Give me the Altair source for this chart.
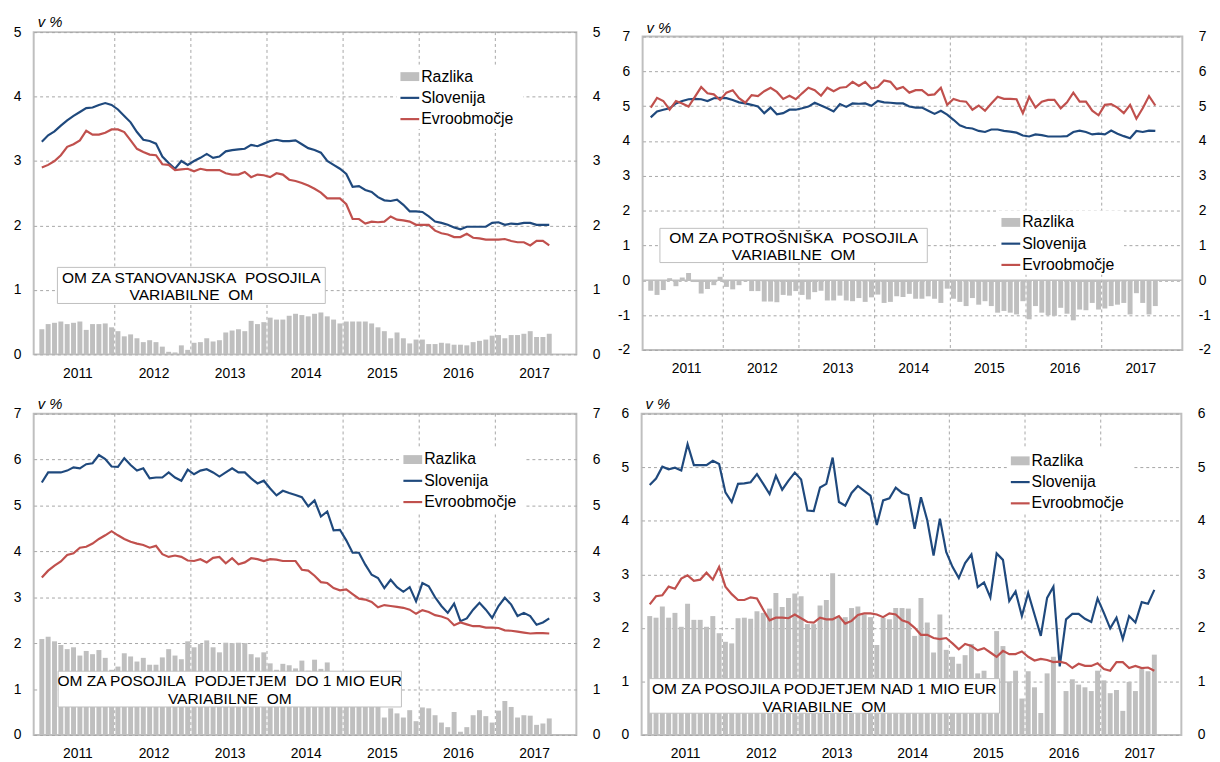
import altair as alt
import pandas as pd

FONT = "Liberation Sans"
BLUE = "#1F497D"
RED = "#C0504D"
GRAY = "#BFBFBF"
GRID = "#A6A6A6"
BORDER = "#BFBFBF"

months = [f"{y}-{m:02d}" for y in range(2011, 2018) for m in range(1, 13)][:81]
year_labels = ["2011", "2012", "2013", "2014", "2015", "2016", "2017"]
legend_labels = ["Razlika", "Slovenija", "Evroobmočje"]

# Panel 1: OM za stanovanjska posojila
p1_slovenija = [3.30, 3.40, 3.46, 3.55, 3.63, 3.70, 3.76, 3.82, 3.83, 3.87,
                3.90, 3.87, 3.80, 3.70, 3.60, 3.45, 3.33, 3.31, 3.27, 3.07,
                2.97, 2.88, 3.00, 2.94, 3.00, 3.05, 3.11, 3.05, 3.07, 3.15,
                3.17, 3.18, 3.19, 3.25, 3.23, 3.27, 3.31, 3.33, 3.31, 3.31,
                3.32, 3.26, 3.20, 3.17, 3.13, 3.00, 2.94, 2.88, 2.80, 2.60,
                2.61, 2.55, 2.52, 2.44, 2.39, 2.38, 2.40, 2.32, 2.22, 2.22,
                2.21, 2.14, 2.06, 2.04, 2.01, 1.97, 1.94, 1.98, 1.98, 1.98,
                1.98, 2.04, 2.05, 2.01, 2.03, 2.02, 2.04, 2.04, 2.01, 2.01,
                2.01]
p1_evro = [2.90, 2.94, 3.00, 3.09, 3.22, 3.26, 3.32, 3.47, 3.41, 3.41,
           3.44, 3.49, 3.49, 3.45, 3.32, 3.19, 3.14, 3.10, 3.09, 2.95,
           2.94, 2.86, 2.87, 2.88, 2.84, 2.88, 2.86, 2.86, 2.86, 2.81,
           2.79, 2.79, 2.83, 2.75, 2.79, 2.78, 2.75, 2.81, 2.79, 2.71,
           2.69, 2.66, 2.62, 2.57, 2.51, 2.42, 2.42, 2.42, 2.33, 2.10,
           2.10, 2.03, 2.06, 2.05, 2.06, 2.14, 2.09, 2.08, 2.06, 2.01,
           2.01, 2.01, 1.92, 1.88, 1.86, 1.82, 1.82, 1.87, 1.81, 1.80,
           1.78, 1.78, 1.78, 1.79, 1.76, 1.74, 1.74, 1.69, 1.76, 1.76,
           1.69]
p1_razlika = [0.39, 0.47, 0.49, 0.51, 0.47, 0.49, 0.51, 0.38, 0.47, 0.47,
              0.48, 0.42, 0.36, 0.28, 0.31, 0.25, 0.19, 0.22, 0.19, 0.12,
              0.04, 0.03, 0.14, 0.07, 0.18, 0.19, 0.25, 0.20, 0.22, 0.34,
              0.37, 0.39, 0.36, 0.52, 0.47, 0.50, 0.57, 0.54, 0.54, 0.60,
              0.63, 0.61, 0.59, 0.63, 0.65, 0.59, 0.54, 0.48, 0.51, 0.51,
              0.51, 0.51, 0.48, 0.42, 0.36, 0.25, 0.34, 0.25, 0.17, 0.23,
              0.23, 0.16, 0.16, 0.18, 0.17, 0.15, 0.15, 0.14, 0.19, 0.21,
              0.23, 0.29, 0.30, 0.25, 0.30, 0.30, 0.32, 0.36, 0.27, 0.27,
              0.32]

# Panel 2: OM za potrošniška posojila
p2_slovenija = [4.68, 4.85, 4.90, 4.94, 5.08, 5.15, 5.20, 5.21, 5.20, 5.15,
                5.23, 5.24, 5.23, 5.18, 5.11, 5.08, 5.04, 4.99, 4.80, 4.96,
                4.77, 4.80, 4.90, 4.90, 4.94, 4.99, 5.10, 5.02, 4.94, 4.85,
                5.06, 4.98, 5.08, 5.07, 5.08, 5.01, 5.15, 5.11, 5.10, 5.08,
                5.08, 4.99, 4.96, 4.96, 4.87, 4.78, 4.87, 4.76, 4.61, 4.45,
                4.38, 4.36, 4.29, 4.26, 4.33, 4.33, 4.29, 4.27, 4.24, 4.16,
                4.13, 4.19, 4.17, 4.13, 4.13, 4.13, 4.14, 4.26, 4.30, 4.26,
                4.19, 4.21, 4.19, 4.30, 4.21, 4.14, 4.08, 4.29, 4.26, 4.30,
                4.29]
p2_evro = [4.96, 5.24, 5.15, 4.90, 5.15, 5.08, 4.99, 5.27, 5.55, 5.37,
           5.34, 5.18, 5.39, 5.46, 5.23, 5.10, 5.32, 5.29, 5.43, 5.53,
           5.41, 5.21, 5.30, 5.20, 5.37, 5.53, 5.46, 5.30, 5.53, 5.43,
           5.53, 5.55, 5.70, 5.58, 5.70, 5.51, 5.55, 5.74, 5.70, 5.49,
           5.55, 5.39, 5.46, 5.46, 5.32, 5.34, 5.53, 5.04, 5.21, 5.15,
           5.13, 4.90, 5.02, 4.87, 5.08, 5.27, 5.21, 5.21, 5.20, 4.80,
           5.27, 4.96, 5.13, 5.18, 5.18, 4.94, 5.11, 5.39, 5.13, 5.13,
           4.87, 4.74, 5.04, 5.06, 4.96, 4.80, 5.04, 4.64, 4.94, 5.29,
           5.02]
p2_razlika = [-0.30, -0.42, -0.28, 0.06, -0.17, 0.08, 0.21, -0.05, -0.38, -0.25,
              -0.14, 0.10, -0.19, -0.26, -0.14, -0.03, -0.31, -0.31, -0.61, -0.61,
              -0.63, -0.42, -0.44, -0.31, -0.42, -0.55, -0.34, -0.30, -0.58, -0.58,
              -0.44, -0.58, -0.60, -0.51, -0.62, -0.49, -0.41, -0.65, -0.62, -0.46,
              -0.48, -0.39, -0.53, -0.53, -0.46, -0.53, -0.65, -0.24, -0.53, -0.62,
              -0.74, -0.51, -0.70, -0.60, -0.74, -0.93, -0.88, -0.93, -0.98, -0.60,
              -1.12, -0.74, -0.93, -1.00, -1.02, -0.79, -0.96, -1.15, -0.84, -0.86,
              -0.65, -0.84, -0.81, -0.74, -0.70, -0.65, -0.98, -0.37, -0.65, -0.98,
              -0.74]

# Panel 3: OM za posojila podjetjem do 1 mio EUR
p3_slovenija = [5.50, 5.72, 5.72, 5.72, 5.76, 5.83, 5.81, 5.90, 5.92, 6.10,
                6.01, 5.85, 5.84, 6.03, 5.88, 5.76, 5.81, 5.59, 5.61, 5.61,
                5.72, 5.61, 5.54, 5.78, 5.68, 5.76, 5.79, 5.72, 5.63, 5.72,
                5.81, 5.72, 5.72, 5.59, 5.48, 5.54, 5.37, 5.22, 5.32, 5.27,
                5.23, 5.18, 4.98, 5.11, 4.76, 4.87, 4.46, 4.47, 4.24, 3.97,
                3.97, 3.71, 3.49, 3.42, 3.20, 3.38, 3.22, 3.12, 3.22, 2.91,
                3.31, 3.24, 3.00, 2.81, 2.66, 2.86, 2.48, 2.54, 2.73, 2.88,
                2.73, 2.55, 2.81, 2.99, 2.84, 2.59, 2.66, 2.59, 2.40, 2.45,
                2.54]
p3_evro = [3.43, 3.58, 3.69, 3.78, 3.92, 3.96, 4.08, 4.10, 4.17, 4.27,
           4.35, 4.44, 4.35, 4.27, 4.21, 4.17, 4.14, 4.08, 4.12, 3.94,
           3.88, 3.91, 3.88, 3.80, 3.79, 3.83, 3.76, 3.86, 3.88, 3.74,
           3.85, 3.72, 3.76, 3.85, 3.83, 3.79, 3.83, 3.82, 3.79, 3.79,
           3.79, 3.60, 3.58, 3.47, 3.33, 3.31, 3.20, 3.15, 3.17, 3.07,
           2.97, 2.95, 2.90, 2.78, 2.83, 2.81, 2.79, 2.77, 2.73, 2.64,
           2.72, 2.68, 2.61, 2.58, 2.53, 2.39, 2.45, 2.41, 2.37, 2.37,
           2.34, 2.34, 2.33, 2.28, 2.27, 2.25, 2.23, 2.21, 2.22, 2.22,
           2.21]
p3_razlika = [2.09, 2.14, 2.04, 1.96, 1.87, 1.91, 1.73, 1.83, 1.76, 1.85,
              1.68, 1.42, 1.49, 1.78, 1.71, 1.60, 1.68, 1.53, 1.53, 1.69,
              1.87, 1.73, 1.65, 2.04, 1.91, 1.98, 2.06, 1.91, 1.80, 2.01,
              2.00, 2.01, 2.00, 1.76, 1.69, 1.80, 1.56, 1.42, 1.55, 1.52,
              1.45, 1.62, 1.40, 1.64, 1.44, 1.58, 1.26, 1.32, 1.07, 0.90,
              1.00, 0.76, 0.62, 0.64, 0.38, 0.58, 0.47, 0.38, 0.54, 0.30,
              0.60, 0.58, 0.43, 0.27, 0.17, 0.50, 0.07, 0.17, 0.43, 0.54,
              0.41, 0.27, 0.53, 0.74, 0.61, 0.38, 0.43, 0.42, 0.22, 0.25,
              0.36]

# Panel 4: OM za posojila podjetjem nad 1 mio EUR
p4_slovenija = [4.67, 4.79, 5.01, 4.96, 4.99, 4.94, 5.43, 5.04, 5.04, 5.04,
                5.12, 5.06, 4.53, 4.35, 4.69, 4.70, 4.72, 4.87, 4.69, 4.50,
                4.84, 4.58, 4.75, 4.90, 4.77, 4.19, 4.18, 4.62, 4.69, 5.18,
                4.35, 4.28, 4.52, 4.65, 4.56, 4.47, 3.92, 4.38, 4.42, 4.62,
                4.52, 4.48, 3.85, 4.44, 4.01, 3.35, 4.04, 3.42, 3.14, 2.93,
                3.21, 3.37, 2.76, 2.85, 2.57, 3.39, 3.27, 2.50, 2.68, 2.22,
                2.65, 2.25, 1.85, 2.56, 2.77, 1.28, 2.16, 2.26, 2.26, 2.17,
                2.11, 2.55, 2.28, 1.99, 2.19, 1.79, 2.22, 2.10, 2.48, 2.45,
                2.71]
p4_evro = [2.44, 2.59, 2.61, 2.77, 2.73, 2.92, 2.98, 2.88, 2.90, 3.03,
           2.90, 3.14, 2.77, 2.63, 2.52, 2.52, 2.57, 2.55, 2.34, 2.14,
           2.19, 2.19, 2.18, 2.25, 2.18, 2.11, 2.10, 2.19, 2.16, 2.16,
           2.22, 2.08, 2.13, 2.24, 2.27, 2.27, 2.25, 2.20, 2.27, 2.25,
           2.14, 2.10, 2.00, 1.87, 1.87, 1.81, 1.79, 1.81, 1.71, 1.60,
           1.70, 1.66, 1.58, 1.62, 1.54, 1.46, 1.57, 1.51, 1.51, 1.56,
           1.46, 1.39, 1.42, 1.40, 1.36, 1.37, 1.34, 1.25, 1.33, 1.29,
           1.29, 1.34, 1.23, 1.20, 1.36, 1.36, 1.25, 1.29, 1.25, 1.26,
           1.20]
p4_razlika = [2.22, 2.19, 2.40, 2.19, 2.28, 2.02, 2.45, 2.15, 2.15, 2.02,
              2.22, 1.90, 1.74, 1.71, 2.18, 2.19, 2.17, 2.31, 2.28, 2.36,
              2.65, 2.39, 2.56, 2.64, 2.59, 2.07, 2.07, 2.42, 2.52, 3.02,
              2.19, 2.20, 2.37, 2.40, 2.25, 2.20, 1.68, 2.19, 2.16, 2.37,
              2.37, 2.36, 1.85, 2.56, 2.10, 1.54, 2.25, 1.59, 1.46, 1.33,
              1.49, 1.70, 1.15, 1.20, 1.03, 1.94, 1.66, 1.00, 1.20, 0.68,
              1.19, 0.89, 0.41, 1.15, 1.46, -0.02, 0.82, 1.04, 0.94, 0.89,
              0.82, 1.20, 1.02, 0.78, 0.84, 0.45, 0.99, 0.82, 1.23, 1.19,
              1.50]

one = pd.DataFrame({"k": [0]})
year_starts = pd.DataFrame({"start": [12 * k for k in range(1, len(year_labels))]})


def vrect(x0, x1, y0, y1, **kw):
    return alt.Chart(one).mark_rect(**kw).encode(
        x=alt.value(x0), x2=alt.value(x1), y=alt.value(y0), y2=alt.value(y1))


def vtext(x, y, txt, **kw):
    base = dict(font=FONT, color="black", baseline="middle")
    base.update(kw)
    return alt.Chart(one).mark_text(**base).encode(
        x=alt.value(x), y=alt.value(y), text=alt.value(txt))


def vrule(x0, x1, y, **kw):
    return alt.Chart(one).mark_rule(**kw).encode(
        x=alt.value(x0), x2=alt.value(x1), y=alt.value(y))


def panel(slo, evro, raz, ymin, ymax, W, H, box, box_lines, box_text_y, leg,
          vpct_y, zero_line=False):
    df = pd.DataFrame({"mesec": months, "Slovenija": slo,
                       "Evroobmočje": evro, "Razlika": raz})
    df["pos"] = [i + 0.5 for i in range(len(months))]
    ticks = list(range(ymin, ymax + 1))
    xscale = alt.Scale(domain=[0, 84], nice=False, zero=False)
    yscale = alt.Scale(domain=[ymin, ymax], nice=False, zero=False)
    xaxis = alt.Axis(values=[12 * k for k in range(len(year_labels))],
                     labelExpr="'' + (2011 + datum.value / 12)",
                     grid=False, ticks=False, domain=False, labelPadding=12,
                     labelOffset=W / 14, labelFlush=False, labelOverlap=False,
                     title=None, orient="bottom")
    yleft = alt.Axis(values=ticks, labelExpr="'' + datum.value", grid=True,
                     gridDash=[3, 3], gridColor=GRID, gridWidth=1, ticks=False,
                     domain=False, labelPadding=13, title=None, orient="left",
                     minExtent=25, maxExtent=25)
    yright = alt.Axis(values=ticks, labelExpr="'' + datum.value", grid=False,
                      ticks=False, domain=False, labelPadding=16, title=None,
                      orient="right", minExtent=24, maxExtent=24)

    layers = []
    # vertical dashed grid at year boundaries
    layers.append(alt.Chart(year_starts).mark_rule(
        color=GRID, strokeWidth=1, strokeDash=[3, 3]).encode(
        x=alt.X("start:Q", scale=xscale, axis=None)))
    layers.append(alt.Chart(df).mark_bar(size=5, color=GRAY).encode(
        x=alt.X("pos:Q", scale=xscale, axis=xaxis),
        y=alt.Y("Razlika:Q", scale=yscale, axis=yleft, stack=None)))
    if zero_line:
        layers.append(alt.Chart(one).mark_rule(color=BORDER, strokeWidth=1.5).encode(
            y=alt.YDatum(0, scale=yscale, axis=None)))
    bx0, bx1, by0, by1 = box
    layers.append(vrect(bx0, bx1, by0, by1, fill="white", stroke=BORDER, strokeWidth=1))
    for txt, ty in zip(box_lines, box_text_y):
        layers.append(vtext((bx0 + bx1) / 2, ty, txt, align="center", fontSize=15.7))
    layers.append(alt.Chart(df).mark_line(color=BLUE, strokeWidth=2.2).encode(
        x=alt.X("pos:Q", scale=xscale, axis=None),
        y=alt.Y("Slovenija:Q", scale=yscale, axis=yright)))
    layers.append(alt.Chart(df).mark_line(color=RED, strokeWidth=2.2).encode(
        x=alt.X("pos:Q", scale=xscale, axis=None),
        y=alt.Y("Evroobmočje:Q", scale=yscale, axis=None)))
    # legend
    lx, ly = leg
    step = 21.5
    layers.append(vrect(lx - 4, lx + 124, ly - 12, ly + 2 * step + 10, fill="white"))
    layers.append(vrect(lx, lx + 19, ly - 4.5, ly + 4.5, fill=GRAY))
    layers.append(vrule(lx, lx + 19, ly + step, color=BLUE, strokeWidth=2.2))
    layers.append(vrule(lx, lx + 19, ly + 2 * step, color=RED, strokeWidth=2.2))
    for k, lab in enumerate(legend_labels):
        layers.append(vtext(lx + 21, ly + k * step, lab, align="left", fontSize=16))
    # unit label
    layers.append(vtext(4, vpct_y, "v %", align="left", fontSize=15, fontStyle="italic"))
    # invisible top spacer
    layers.append(vrect(0, 1, -19, -18, fill="white", opacity=0))

    return alt.layer(*layers).resolve_scale(y="shared").resolve_axis(
        x="independent", y="independent").properties(width=W, height=H)


NBSP2 = "\u00a0 "

p1 = panel(p1_slovenija, p1_evro, p1_razlika, 0, 5, 549, 326,
           (24, 295, 238, 274.5),
           ["OM ZA STANOVANJSKA" + NBSP2 + "POSOJILA", "VARIABILNE" + NBSP2 + "OM"],
           [248.5, 266], (371, 45), -10)
p2 = panel(p2_slovenija, p2_evro, p2_razlika, -2, 7, 546, 317,
           (17.5, 288, 194, 228.6),
           ["OM ZA POTROŠNIŠKA" + NBSP2 + "POSOJILA", "VARIABILNE" + NBSP2 + "OM"],
           [204, 220.8], (363, 188), -9, zero_line=True)
p3 = panel(p3_slovenija, p3_evro, p3_razlika, 0, 7, 549, 325,
           (24.7, 372, 260.5, 296.7),
           ["OM ZA POSOJILA" + NBSP2 + "PODJETJEM" + NBSP2 + "DO 1 MIO EUR",
            "VARIABILNE" + NBSP2 + "OM"],
           [270.5, 288.2], (374, 46.4), -10)
p4 = panel(p4_slovenija, p4_evro, p4_razlika, 0, 6, 546, 325,
           (7.6, 362, 268, 303),
           ["OM ZA POSOJILA PODJETJEM NAD 1 MIO EUR", "VARIABILNE" + NBSP2 + "OM"],
           [278.3, 296.6], (373.5, 47.7), -10)

chart = alt.vconcat(
    alt.hconcat(p1, p2, spacing=15, center=True),
    alt.hconcat(p3, p4, spacing=15, center=True),
    spacing=13,
).properties(padding=0, background="white").configure_view(
    stroke=BORDER, strokeWidth=2
).configure_axis(
    labelFont=FONT, labelFontSize=14, labelColor="black"
)

chart.save("out.html", embed_options={"renderer": "svg", "actions": False})
